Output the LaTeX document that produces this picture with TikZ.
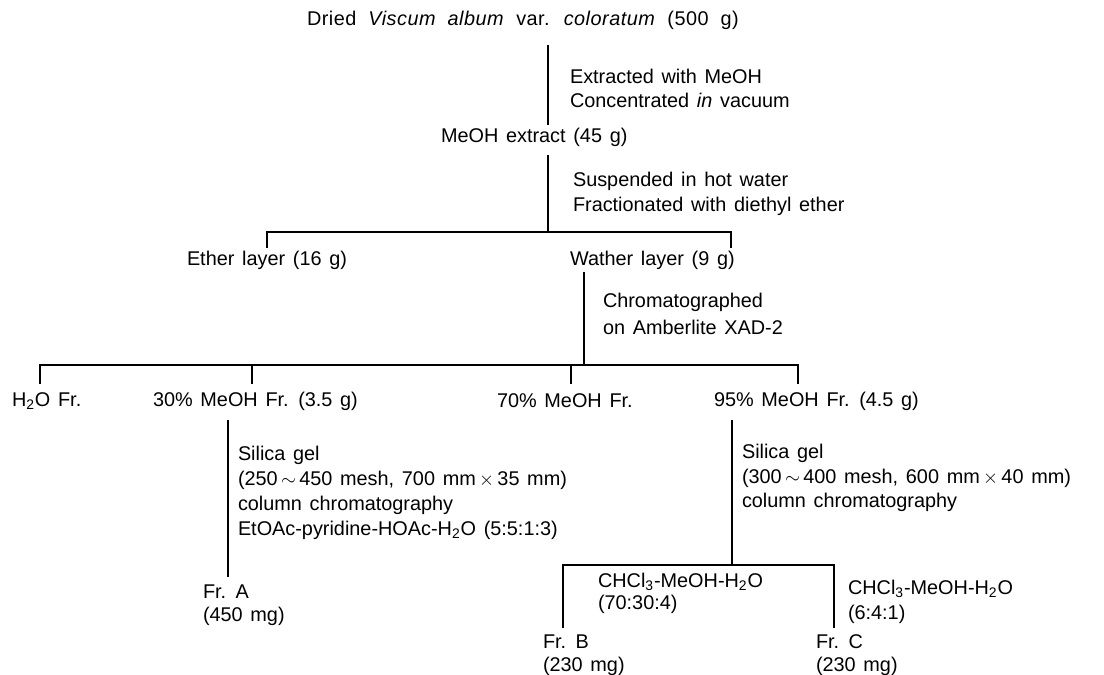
\documentclass[tikz,border=0pt]{standalone}
\usepackage{fontspec}
\setmainfont{Liberation Sans}[WordSpace=1.4]
\newfontfamily\titlefont{Liberation Sans}[WordSpace=2.0, LetterSpace=2.5]
\begin{document}
\begin{tikzpicture}[x=0.02cm,y=-0.02cm,
  every node/.style={inner sep=0pt, outer sep=0pt, font=\fontsize{11.3}{14.2}\selectfont},
  lbl/.style={anchor=west},
  ln/.style={line width=0.8pt}]
\useasboundingbox (0,0) rectangle (1104,675);

% text nodes
\node[lbl, font=\fontsize{11.3}{14.2}\titlefont] (dried) at (307,20) {Dried \textit{Viscum album} var. \textit{coloratum} (500 g)};
\node[lbl] (ext1) at (570,76) {Extracted with MeOH};
\node[lbl] (ext2) at (570,100) {Concentrated \textit{in} vacuum};
\node[lbl] (meoh) at (441,137) {MeOH extract (45 g)};
\node[lbl] (sus1) at (573,181) {Suspended in hot water};
\node[lbl] (sus2) at (573,206) {Fractionated with diethyl ether};
\node[lbl] (ether) at (187,260) {Ether layer (16 g)};
\node[lbl] (water) at (570,260) {Wather layer (9 g)};
\node[lbl] (chr1) at (603,302) {Chromatographed};
\node[lbl] (chr2) at (603,327) {on Amberlite XAD-2};
\node[lbl] (h2o) at (12,401) {H\textsubscript{2}O Fr.};
\node[lbl] (m30) at (153,401) {30\% MeOH Fr. (3.5 g)};
\node[lbl] (m70) at (497,401) {70\% MeOH Fr.};
\node[lbl] (m95) at (714,401) {95\% MeOH Fr. (4.5 g)};
\node[lbl] (sa1) at (238,455) {Silica gel};
\node[lbl] (sa2) at (238,480) {(250\,$\sim$\,450 mesh, 700 mm\,$\times$\,35 mm)};
\node[lbl] (sa3) at (238,505) {column chromatography};
\node[lbl] (sa4) at (238,530) {EtOAc-pyridine-HOAc-H\textsubscript{2}O (5:5:1:3)};
\node[lbl] (fa1) at (203,592) {Fr. A};
\node[lbl] (fa2) at (203,616) {(450 mg)};
\node[lbl] (sb1) at (742,453) {Silica gel};
\node[lbl] (sb2) at (742,478) {(300\,$\sim$\,400 mesh, 600 mm\,$\times$\,40 mm)};
\node[lbl] (sb3) at (742,502) {column chromatography};
\node[lbl] (cb1) at (598,582) {CHCl\textsubscript{3}-MeOH-H\textsubscript{2}O};
\node[lbl] (cb2) at (598,604) {(70:30:4)};
\node[lbl] (cc1) at (848,589) {CHCl\textsubscript{3}-MeOH-H\textsubscript{2}O};
\node[lbl] (cc2) at (848,614) {(6:4:1)};
\node[lbl] (fb1) at (543,642) {Fr. B};
\node[lbl] (fb2) at (543,666) {(230 mg)};
\node[lbl] (fc1) at (816,642) {Fr. C};
\node[lbl] (fc2) at (816,666) {(230 mg)};

% junction coordinates
\coordinate (a1) at (548,45);   \coordinate (a2) at (548,125);
\coordinate (b1) at (548,155);  \coordinate (b2) at (548,232);
\coordinate (bl) at (267,232);  \coordinate (blt) at (267,248);
\coordinate (br) at (731,232);  \coordinate (brt) at (731,248);
\coordinate (c1) at (584,272);  \coordinate (c2) at (584,365);
\coordinate (cl) at (40,365);   \coordinate (clt) at (40,384);
\coordinate (cr) at (798,365);  \coordinate (crt) at (798,384);
\coordinate (c30) at (252,365); \coordinate (c30t) at (252,384);
\coordinate (c70) at (571,365); \coordinate (c70t) at (571,384);
\coordinate (d1) at (228,420);  \coordinate (d2) at (228,577);
\coordinate (e1) at (732,420);  \coordinate (e2) at (732,565);
\coordinate (el) at (563,565);  \coordinate (elt) at (563,628);
\coordinate (er) at (834,565);  \coordinate (ert) at (834,628);

% connectors
\draw[ln] (a1) -- (a2);
\draw[ln] (b1) -- (b2);
\draw[ln] (blt) -- (bl) -- (br) -- (brt);
\draw[ln] (c1) -- (c2);
\draw[ln] (clt) -- (cl) -- (cr) -- (crt);
\draw[ln] (c30) -- (c30t);
\draw[ln] (c70) -- (c70t);
\draw[ln] (d1) -- (d2);
\draw[ln] (e1) -- (e2);
\draw[ln] (elt) -- (el) -- (er) -- (ert);
\end{tikzpicture}
\end{document}
